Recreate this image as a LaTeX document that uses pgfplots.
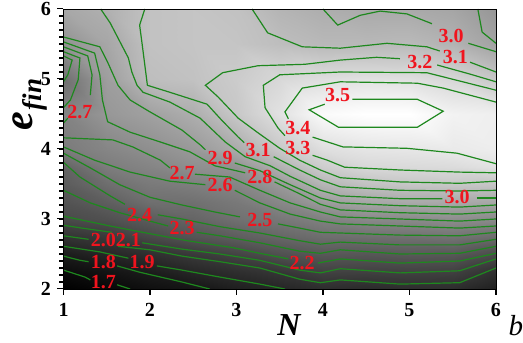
\documentclass[border=0pt]{standalone}
\usepackage{pgfplots}
\pgfplotsset{compat=1.18}
\usepackage{pgfplotstable}
\usepackage{fontspec}
\setmainfont{Liberation Serif}
\definecolor{cgreen}{RGB}{30,136,30}
\definecolor{cred}{RGB}{240,20,30}

% gray field (x varies fastest, 11 columns, 13 rows)
\pgfplotstableread{
x y z
1 2 1.60
1.5 2 1.66
2 2 1.72
2.5 2 1.76
3 2 1.84
3.5 2 1.89
4 2 1.95
4.5 2 1.93
5 2 1.95
5.5 2 1.95
6 2 1.85
1 2.25 1.69
1.5 2.25 1.75
2 2.25 1.82
2.5 2.25 1.90
3 2.25 1.96
3.5 2.25 2.02
4 2.25 2.11
4.5 2.25 2.10
5 2.25 2.11
5.5 2.25 2.10
6 2.25 1.97
1 2.5 1.82
1.5 2.5 1.90
2 2.5 1.97
2.5 2.5 2.05
3 2.5 2.13
3.5 2.5 2.23
4 2.5 2.29
4.5 2.5 2.28
5 2.5 2.30
5.5 2.5 2.29
6 2.5 2.19
1 2.75 2.00
1.5 2.75 2.05
2 2.75 2.17
2.5 2.75 2.26
3 2.75 2.33
3.5 2.75 2.40
4 2.75 2.46
4.5 2.75 2.47
5 2.75 2.48
5.5 2.75 2.50
6 2.75 2.44
1 3 2.18
1.5 3 2.23
2 3 2.32
2.5 3 2.39
3 3 2.48
3.5 3 2.54
4 3 2.62
4.5 3 2.69
5 3 2.70
5.5 3 2.73
6 3 2.70
1 3.25 2.25
1.5 3.25 2.34
2 3.25 2.47
2.5 3.25 2.48
3 3.25 2.55
3.5 3.25 2.68
4 3.25 2.85
4.5 3.25 2.94
5 3.25 2.97
5.5 3.25 2.96
6 3.25 2.95
1 3.5 2.32
1.5 3.5 2.46
2 3.5 2.56
2.5 3.5 2.60
3 3.5 2.66
3.5 3.5 2.83
4 3.5 3.06
4.5 3.5 3.15
5 3.5 3.18
5.5 3.5 3.19
6 3.5 3.17
1 3.75 2.38
1.5 3.75 2.58
2 3.75 2.65
2.5 3.75 2.74
3 3.75 2.77
3.5 3.75 3.03
4 3.75 3.23
4.5 3.75 3.31
5 3.75 3.32
5.5 3.75 3.33
6 3.75 3.37
1 4 2.57
1.5 4 2.66
2 4 2.74
2.5 4 2.83
3 4 2.98
3.5 4 3.20
4 4 3.35
4.5 4 3.39
5 4 3.40
5.5 4 3.42
6 4 3.44
1 4.5 2.64
1.5 4.5 2.81
2 4.5 2.89
2.5 4.5 3.00
3 4.5 3.19
3.5 4.5 3.37
4 4.5 3.52
4.5 4.5 3.56
5 4.5 3.56
5.5 4.5 3.47
6 4.5 3.45
1 5 2.47
1.5 5 2.87
2 5 3.12
2.5 5 3.15
3 5 3.22
3.5 5 3.31
4 5 3.35
4.5 5 3.37
5 5 3.36
5.5 5 3.30
6 5 3.19
1 5.5 2.76
1.5 5.5 2.94
2 5.5 3.15
2.5 5.5 3.17
3 5.5 3.17
3.5 5.5 3.12
4 5.5 3.08
4.5 5.5 3.08
5 5.5 3.09
5.5 5.5 3.04
6 5.5 2.91
1 6 2.95
1.5 6 3.02
2 6 3.15
2.5 6 3.17
3 6 3.15
3.5 6 3.05
4 6 3.00
4.5 6 2.97
5 6 2.97
5.5 6 2.93
6 6 2.80
}\fieldtable

% contour labels
\pgfplotstableread{
x y lab
1.46 2.10 1.7
1.46 2.39 1.8
1.91 2.39 1.9
1.46 2.70 2.0
1.75 2.70 2.1
3.76 2.37 2.2
2.37 2.87 2.3
1.88 3.06 2.4
3.27 2.99 2.5
2.81 3.49 2.6
2.37 3.66 2.7
1.19 4.53 2.7
3.27 3.60 2.8
2.81 3.87 2.9
5.55 3.31 3.0
5.48 5.61 3.0
3.25 3.99 3.1
5.53 5.31 3.1
5.12 5.24 3.2
3.71 4.01 3.3
3.71 4.30 3.4
4.17 4.77 3.5
}\labtable

\pgfplotsset{cline/.style={draw=cgreen, line width=1.2pt, mark=none}}

\begin{document}
\begin{tikzpicture}
\begin{axis}[
  name=ax,
  scale only axis, width=432.5pt, height=280pt,
  xmin=1, xmax=6, ymin=2, ymax=6,
  xtick={1,2,3,4,5,6}, ytick={2,3,4,5,6},
  minor ytick={2.1,2.2,...,5.95},
  tick align=outside,
  tick pos=left,
  major tick length=6pt, minor tick length=4pt,
  every tick/.style={black, line width=1pt},
  axis line style={black, line width=0.8pt},
  colormap={bwc}{gray(0cm)=(0); gray(40cm)=(0.2); gray(90cm)=(0.45); gray(140cm)=(0.68); gray(170cm)=(0.84); gray(195cm)=(1)},
  point meta min=1.6, point meta max=3.55,
  clip=false,
  /pgf/number format/assume math mode=true,
  ticklabel style={font=\fontsize{20}{20}\selectfont\bfseries},
  xticklabel style={yshift=-5pt},
  yticklabel style={xshift=-3pt},
]
\addplot[surf, shader=interp, mesh/cols=11, mesh/rows=13, point meta=\thisrow{z}] table[x=x, y=y] {\fieldtable};

% 1.7
\addplot[cline] coordinates {(1.00,2.27) (1.25,2.17) (1.31,2.13)};
\addplot[cline] coordinates {(1.62,2.06) (1.77,2.00)};
% 1.8
\addplot[cline] coordinates {(1.00,2.47) (1.19,2.41) (1.29,2.39)};
\addplot[cline] coordinates {(1.62,2.33) (1.88,2.24) (2.37,2.10) (2.69,2.00)};
% 1.9
\addplot[cline] coordinates {(1.00,2.61) (1.42,2.53) (1.75,2.44)};
\addplot[cline] coordinates {(2.08,2.33) (2.37,2.27) (2.81,2.17) (3.27,2.07) (3.56,2.00)};
% 2.0
\addplot[cline] coordinates {(1.00,2.76) (1.29,2.71)};
\addplot[cline] coordinates {(1.63,2.61) (2.00,2.56) (2.37,2.47) (2.81,2.39) (3.27,2.30) (3.73,2.14) (3.97,2.09) (4.20,2.13) (4.89,2.07) (5.58,2.09) (6.00,2.30)};
% 2.1
\addplot[cline] coordinates {(1.00,2.91) (1.27,2.86) (1.56,2.81)};
\addplot[cline] coordinates {(1.91,2.66) (2.37,2.57) (2.81,2.50) (3.27,2.41) (3.73,2.27) (3.97,2.23) (4.20,2.29) (4.89,2.23) (5.58,2.26) (6.00,2.43)};
% 2.2
\addplot[cline] coordinates {(1.00,3.04) (1.27,2.97) (1.54,2.90) (2.00,2.79) (2.43,2.69) (2.96,2.59) (3.27,2.51) (3.60,2.43)};
\addplot[cline] coordinates {(3.94,2.37) (4.20,2.43) (4.89,2.37) (5.58,2.40) (6.00,2.51)};
% 2.3
\addplot[cline] coordinates {(1.00,3.41) (1.31,3.23) (1.65,3.09) (2.00,2.97) (2.21,2.90)};
\addplot[cline] coordinates {(2.54,2.81) (2.81,2.76) (3.27,2.66) (3.73,2.54) (3.97,2.51) (4.20,2.56) (4.89,2.50) (5.58,2.51) (6.00,2.61)};
% 2.4
\addplot[cline] coordinates {(1.00,3.81) (1.19,3.60) (1.54,3.33) (1.71,3.21)};
\addplot[cline] coordinates {(2.09,3.06) (2.37,3.00) (2.81,2.89) (3.27,2.80) (3.73,2.69) (3.97,2.64) (4.20,2.67) (4.89,2.63) (5.58,2.63) (6.00,2.71)};
% 2.5
\addplot[cline] coordinates {(1.00,3.94) (1.31,3.73) (1.65,3.49) (2.00,3.31) (2.37,3.20) (2.75,3.10) (3.04,3.03)};
\addplot[cline] coordinates {(3.48,2.93) (3.73,2.87) (3.97,2.81) (4.20,2.80) (4.89,2.77) (5.58,2.76) (6.00,2.81)};
\addplot[cline] coordinates {(1.00,5.33) (1.10,5.27) (1.05,5.06) (1.00,4.96)};
% 2.6
\addplot[cline] coordinates {(1.00,4.03) (1.36,3.84) (1.77,3.67) (2.23,3.54) (2.64,3.49)};
\addplot[cline] coordinates {(2.98,3.41) (3.27,3.23) (3.62,3.07) (3.97,2.97) (4.20,2.93) (4.89,2.90) (5.58,2.87) (6.00,2.90)};
\addplot[cline] coordinates {(1.00,5.39) (1.19,5.30) (1.17,4.99) (1.08,4.70) (1.00,4.59)};
% 2.7
\addplot[cline] coordinates {(1.00,4.16) (1.57,4.13) (1.80,4.03) (2.12,3.84) (2.23,3.73)};
\addplot[cline] coordinates {(2.52,3.64) (2.92,3.60) (3.27,3.41) (3.62,3.23) (3.97,3.10) (4.20,3.03) (4.89,3.00) (5.58,2.97) (6.00,3.00)};
\addplot[cline] coordinates {(1.00,5.46) (1.28,5.33) (1.33,5.06) (1.31,4.77)};
\addplot[cline] coordinates {(1.05,4.44) (1.00,4.37)};
% 2.8
\addplot[cline] coordinates {(1.00,5.53) (1.36,5.37) (1.42,5.06) (1.45,4.70) (1.51,4.39) (1.77,4.24) (2.12,4.10) (2.46,3.96) (2.75,3.76) (3.10,3.66)};
\addplot[cline] coordinates {(3.44,3.53) (3.73,3.36) (3.97,3.21) (4.20,3.13) (4.89,3.09) (5.58,3.07) (6.00,3.10)};
% 2.9
\addplot[cline] coordinates {(1.00,5.60) (1.42,5.46) (1.51,5.24) (1.63,4.91) (1.77,4.70) (2.00,4.53) (2.37,4.27) (2.58,4.06) (2.64,3.99)};
\addplot[cline] coordinates {(2.98,3.80) (3.27,3.69) (3.62,3.49) (3.97,3.30) (4.20,3.23) (4.89,3.19) (5.58,3.17) (6.00,3.20)};
\addplot[cline] coordinates {(5.79,6.00) (5.84,5.67) (6.00,5.51)};
% 3.0
\addplot[cline] coordinates {(1.43,6.00) (1.54,5.80) (1.75,5.30) (1.79,5.10) (1.85,4.91) (1.92,4.81) (2.23,4.67) (2.58,4.44) (2.87,4.10) (3.10,3.89) (3.39,3.76) (3.62,3.61) (3.97,3.41) (4.20,3.33) (4.89,3.29) (5.38,3.29)};
\addplot[cline] coordinates {(5.78,3.30) (6.00,3.30)};
\addplot[cline] coordinates {(4.00,6.00) (4.17,5.77) (4.43,5.91) (4.66,5.97) (4.97,5.93) (5.26,5.79)};
\addplot[cline] coordinates {(5.68,5.51) (6.00,5.39)};
% 3.1
\addplot[cline] coordinates {(1.94,6.00) (1.88,5.77) (1.91,5.49) (1.97,4.91) (2.23,4.81) (2.66,4.64) (2.83,4.41) (3.02,4.17) (3.09,4.09)};
\addplot[cline] coordinates {(3.43,3.89) (3.73,3.70) (3.97,3.56) (4.20,3.46) (4.89,3.41) (5.58,3.40) (6.00,3.41)};
\addplot[cline] coordinates {(3.18,6.00) (3.36,5.66) (3.76,5.46) (4.20,5.44) (4.74,5.51) (5.20,5.46) (5.35,5.40)};
\addplot[cline] coordinates {(5.70,5.24) (6.00,5.10)};
% 3.2
\addplot[cline] coordinates {(4.89,5.29) (4.62,5.31) (4.20,5.27) (3.79,5.21) (3.25,5.19) (2.84,5.09) (2.64,4.91) (2.79,4.74) (3.02,4.44) (3.25,4.23) (3.50,4.01) (3.73,3.84) (3.97,3.70) (4.20,3.59) (4.89,3.53) (5.58,3.51) (6.00,3.54)};
\addplot[cline] coordinates {(5.32,5.20) (5.70,5.07) (6.00,4.96)};
% 3.3
\addplot[cline] coordinates {(6.00,4.84) (5.20,5.09) (4.20,5.10) (3.50,5.06) (3.31,4.91) (3.33,4.59) (3.48,4.30) (3.56,4.19)};
\addplot[cline] coordinates {(3.88,3.91) (4.05,3.84) (4.25,3.74) (4.89,3.70) (5.58,3.67) (6.00,3.66)};
% 3.4
\addplot[cline] coordinates {(6.00,4.67) (5.39,4.87) (5.09,4.94) (4.20,4.96) (3.76,4.87) (3.56,4.53) (3.60,4.43)};
\addplot[cline] coordinates {(3.88,4.17) (4.23,4.03) (4.97,4.01) (5.55,3.94) (6.00,3.79)};
% 3.5
\addplot[cline] coordinates {(4.34,4.71) (5.09,4.71) (5.39,4.54) (5.09,4.31) (4.18,4.31) (3.84,4.56) (4.02,4.64)};

% labels
\addplot[draw=none, mark=none, nodes near coords, point meta=explicit symbolic,
  nodes near coords style={anchor=center, inner sep=0pt, text=cred, font=\fontsize{20}{20}\selectfont\bfseries}]
  table[x=x, y=y, meta=lab] {\labtable};

\draw[black, line width=0.8pt] (rel axis cs:0,0) rectangle (rel axis cs:1,1);
\end{axis}
% tick marks on the frame (major: x and y, minor: y every 0.1)
\foreach \i in {0,...,5} \draw[black, line width=1pt] ([xshift=\i*86.5pt]ax.south west) -- ++(0,-6pt);
\foreach \j in {0,...,4} \draw[black, line width=1pt] ([yshift=\j*70pt]ax.south west) -- ++(-6pt,0);
\foreach \k in {1,...,39} \draw[black, line width=0.8pt] ([yshift=\k*7pt]ax.south west) -- ++(-4pt,0);
\node[anchor=center, font=\fontsize{32}{32}\selectfont\bfseries\itshape] at ([xshift=225.5pt, yshift=-36pt]ax.south west) {N};
\node[anchor=base, rotate=90, font=\fontsize{42}{42}\selectfont\bfseries\itshape] at ([xshift=-30.5pt, yshift=184.5pt]ax.south west) {e\kern1pt\raisebox{-9pt}{\fontsize{27}{27}\selectfont fin}};
\node[anchor=base west, font=\fontsize{29}{29}\selectfont\itshape] at ([xshift=441.5pt, yshift=-47pt]ax.south west) {b};
\pgfresetboundingbox
\path[use as bounding box] ([xshift=-63.5pt, yshift=-54pt]ax.south west) rectangle ([xshift=459.5pt, yshift=289pt]ax.south west);
\end{tikzpicture}
\end{document}
